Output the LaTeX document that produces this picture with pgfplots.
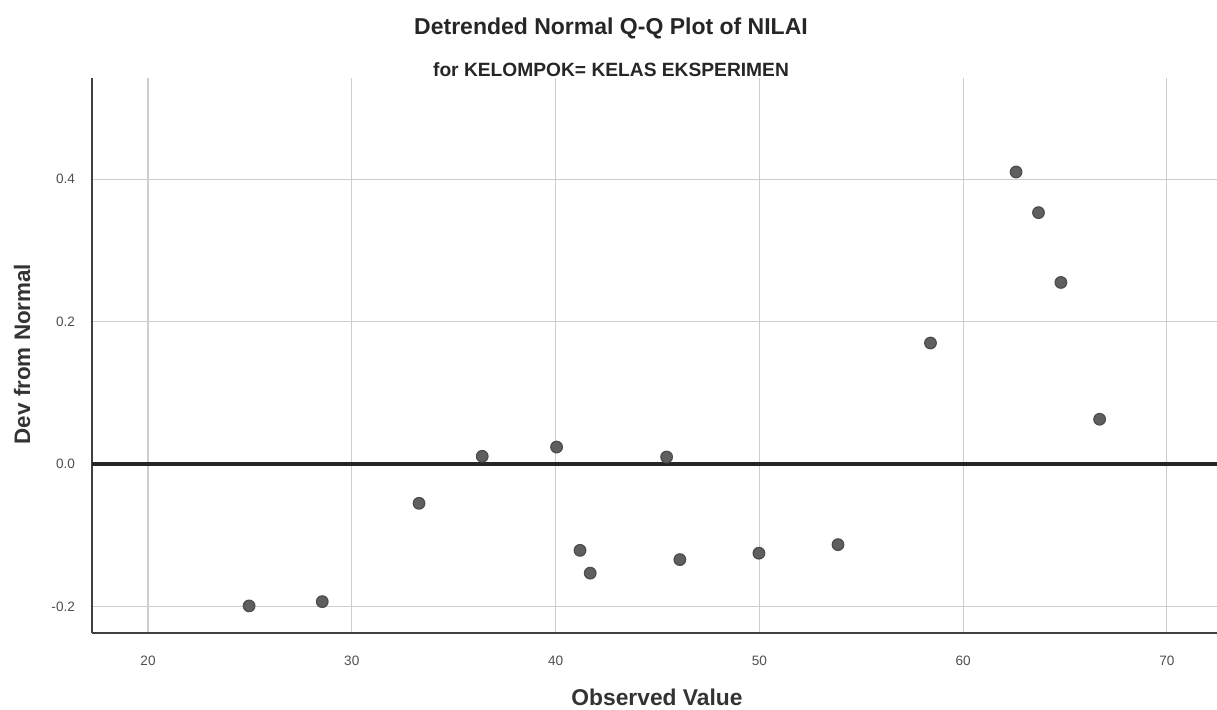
\documentclass[border=0pt]{standalone}
\usepackage{pgfplots}
\pgfplotsset{compat=1.18}
\usepackage{fontspec}
\setmainfont{Liberation Sans}
\definecolor{gridc}{RGB}{205,205,205}
\definecolor{markc}{RGB}{95,95,95}
\definecolor{tickc}{RGB}{80,80,80}
\begin{document}
\begin{tikzpicture}
\useasboundingbox (0,0) rectangle (608.5pt,355pt);
\begin{axis}[
  at={(46pt,38.5pt)}, anchor=south west,
  scale only axis, width=562.5pt, height=277.5pt,
  xmin=17.25, xmax=72.46, ymin=-0.237, ymax=0.542,
  axis x line=bottom, axis y line=left,
  axis line style={-, draw=black!75, line width=1pt},
  xtick={20,30,40,50,60,70}, ytick={-0.2,0,0.2,0.4},
  y tick label style={/pgf/number format/fixed, /pgf/number format/fixed zerofill, /pgf/number format/precision=1},
  /pgf/number format/assume math mode=true,
  major tick length=0pt,
  tick label style={font=\fontsize{6.8}{7}\selectfont, text=tickc},
  x tick label style={yshift=-8pt},
  y tick label style={xshift=-5pt},
  grid=major, major grid style={gridc, line width=0.6pt},
  clip=false,
]
\addplot[black!85, line width=2pt] coordinates {(17.25,0) (72.46,0)};
\addplot[only marks, mark=*, mark size=2.9pt, mark options={fill=markc, draw=black!70, line width=0.6pt}] coordinates {
(24.96,-0.199) (28.55,-0.193) (33.3,-0.055) (36.4,0.011) (40.05,0.024)
(41.2,-0.121) (41.7,-0.153) (45.45,0.010) (46.1,-0.134) (49.98,-0.125)
(53.86,-0.113) (58.4,0.170) (62.6,0.410) (63.7,0.353) (64.8,0.255) (66.7,0.063)
};
\end{axis}
\node[font=\bfseries\fontsize{11.5}{13}\selectfont, text=black!85] at (305.5pt,341pt) {Detrended Normal Q-Q Plot of NILAI};
\node[font=\bfseries\fontsize{9.6}{11}\selectfont, text=black!85] at (305.5pt,320pt) {for KELOMPOK= KELAS EKSPERIMEN};
\node[font=\bfseries\fontsize{11.4}{13}\selectfont, text=black!80] at (328.5pt,6.5pt) {Observed Value};
\node[font=\bfseries\fontsize{11.2}{13}\selectfont, text=black!80, rotate=90] at (11pt,178pt) {Dev from Normal};
\end{tikzpicture}
\end{document}
